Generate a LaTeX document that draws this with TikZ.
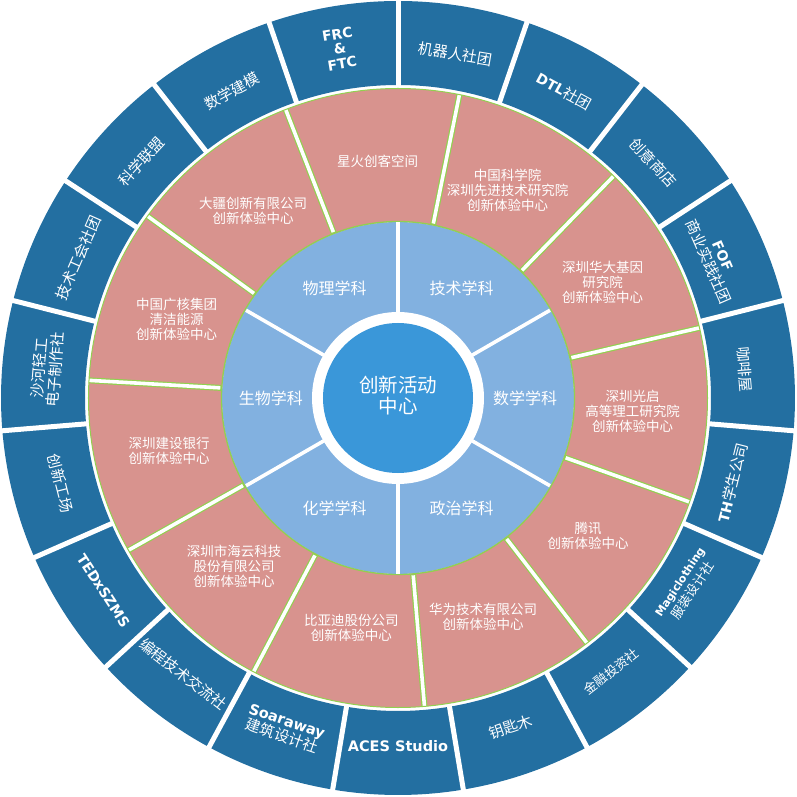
\documentclass[tikz,border=0pt]{standalone}
\usepackage{fontspec}
\newfontfamily\cjk{Noto Sans CJK SC}
\newfontfamily\latb{DejaVu Sans Bold}
\definecolor{outerblue}{HTML}{236FA1}
\definecolor{salmon}{HTML}{D8938E}
\definecolor{innerblue}{HTML}{82B1E0}
\definecolor{centerblue}{HTML}{3A97D9}
\definecolor{sepgreen}{HTML}{92D050}
\tikzset{
  inlbl/.style={text=white, inner sep=0pt, font=\cjk\fontsize{16}{18}\selectfont},
  ctrlbl/.style={text=white, inner sep=0pt, align=center, font=\cjk\fontsize{19.5}{21.5}\selectfont},
  midlbl/.style={text=white, inner sep=0pt, align=center, font=\cjk\fontsize{13.5}{15}\selectfont},
  outlbl/.style={text=white, inner sep=0pt, align=center, font=\cjk\fontsize{15}{16}\selectfont},
  latlbl/.style={text=white, inner sep=0pt, align=center, font=\latb\fontsize{14}{15}\selectfont},
}
\begin{document}
\begin{tikzpicture}
\useasboundingbox (-398pt,-399pt) rectangle (399pt,398pt);
% outer ring
\foreach \k in {0,...,18} {
  \pgfmathsetmacro\b{90-\k*360/19}
  \pgfmathsetmacro\a{\b-360/19}
  \fill[outerblue] (\a:313pt) arc[start angle=\a, end angle=\b, radius=313pt]
     -- (\b:397pt) arc[start angle=\b, end angle=\a, radius=397pt] -- cycle;
}
\foreach \k in {0,...,18} {
  \pgfmathsetmacro\b{90-\k*360/19}
  \draw[white, line width=5pt] (\b:310pt) -- (\b:400pt);
}
% middle ring
\foreach \k in {0,...,10} {
  \pgfmathsetmacro\b{78.55-\k*360/11}
  \pgfmathsetmacro\a{\b-360/11}
  \fill[salmon] (\a:176pt) arc[start angle=\a, end angle=\b, radius=176pt]
     -- (\b:309.5pt) arc[start angle=\b, end angle=\a, radius=309.5pt] -- cycle;
}
\foreach \k in {0,...,10} {
  \pgfmathsetmacro\b{78.55-\k*360/11}
  \draw[sepgreen, line width=6pt] (\b:177pt) -- (\b:309.5pt);
  \draw[white, line width=3.6pt] (\b:178pt) -- (\b:312pt);
}
\draw[sepgreen, line width=1pt] (0,0) circle[radius=309.5pt];
% inner ring
\fill[innerblue] (0,0) circle[radius=176pt];
\draw[sepgreen, line width=1.3pt] (0,0) circle[radius=176.5pt];
\foreach \t in {90,30,-30,-90,-150,150} {
  \draw[white, line width=3.6pt] (\t:80pt) -- (\t:175.5pt);
}
\fill[white] (0,0) circle[radius=86pt];
\fill[centerblue] (0,0) circle[radius=75pt];
% centre
\node[ctrlbl] (ctr) at (0,2.5pt) {创新活动\\中心};
% inner labels
\node[inlbl] (i1) at (60:127pt) {技术学科};
\node[inlbl] (i2) at (0:127pt) {数学学科};
\node[inlbl] (i3) at (-60:127pt) {政治学科};
\node[inlbl] (i4) at (-120:127pt) {化学学科};
\node[inlbl] (i5) at (180:127pt) {生物学科};
\node[inlbl] (i6) at (120:127pt) {物理学科};
% middle labels
\node[midlbl] (m0) at (62.19:235pt) {中国科学院\\深圳先进技术研究院\\创新体验中心};
\node[midlbl] (m1) at (29.46:235pt) {深圳华大基因\\研究院\\创新体验中心};
\node[midlbl] (m2) at (-3.27:235pt) {深圳光启\\高等理工研究院\\创新体验中心};
\node[midlbl] (m3) at (-36.0:235pt) {腾讯\\创新体验中心};
\node[midlbl] (m4) at (-68.73:235pt) {华为技术有限公司\\创新体验中心};
\node[midlbl] (m5) at (-101.45:235pt) {比亚迪股份公司\\创新体验中心};
\node[midlbl] (m6) at (-134.18:235pt) {深圳市海云科技\\股份有限公司\\创新体验中心};
\node[midlbl] (m7) at (-166.9:235pt) {深圳建设银行\\创新体验中心};
\node[midlbl] (m8) at (160.4:235pt) {中国广核集团\\清洁能源\\创新体验中心};
\node[midlbl] (m9) at (127.65:237pt) {大疆创新有限公司\\创新体验中心};
\node[midlbl] (m10) at (94.9:238pt) {星火创客空间};
% outer labels
\node[latlbl, rotate=9.47] (o0) at (99.47:354pt) {FRC\\\&\\FTC};
\node[outlbl, rotate=-9.47] (o1) at (80.53:349pt) {机器人社团};
\node[outlbl, rotate=-28.42] (o2) at (61.58:349pt) {{\latb\fontsize{14}{16}\selectfont DTL}社团};
\node[outlbl, rotate=-47.37] (o3) at (42.63:347pt) {创意商店};
\node[outlbl, rotate=-66.32] (o4) at (23.68:346pt) {{\latb\fontsize{14}{16}\selectfont FOF}\\商业实践社团};
\node[outlbl, rotate=-85.26] (o5) at (4.74:348pt) {咖啡屋};
\node[outlbl, rotate=75.79] (o6) at (-14.21:345pt) {{\latb\fontsize{14}{16}\selectfont TH}学生公司};
\node[outlbl, rotate=56.84, font=\cjk\fontsize{13}{16}\selectfont] (o7) at (-33.16:345pt) {{\latb\fontsize{11}{13}\selectfont Magiclothing}\\服装设计社};
\node[outlbl, rotate=37.9, font=\cjk\fontsize{13}{15}\selectfont] (o8) at (-52.1:347pt) {金融投资社};
\node[outlbl, rotate=18.95] (o9) at (-71.05:348pt) {钥匙木};
\node[latlbl, font=\latb\fontsize{14.5}{16}\selectfont] (o10) at (-90:348pt) {ACES Studio};
\node[outlbl, rotate=-18.95] (o11) at (-108.95:350pt) {{\latb\fontsize{14.5}{16}\selectfont Soaraway}\\建筑设计社};
\node[outlbl, rotate=-37.9] (o12) at (-127.9:350pt) {编程技术交流社};
\node[latlbl, font=\latb\fontsize{14}{16}\selectfont, rotate=-56.84] (o13) at (-146.84:352pt) {TEDxSZMS};
\node[outlbl, rotate=-75.79] (o14) at (-165.79:348pt) {创新工场};
\node[outlbl, rotate=85.26] (o15) at (175.26:352pt) {沙河轻工\\电子制作社};
\node[outlbl, rotate=66.32] (o16) at (156.32:349pt) {技术工会社团};
\node[outlbl, rotate=47.37] (o17) at (137.37:349pt) {科学联盟};
\node[outlbl, rotate=28.42] (o18) at (118.42:349pt) {数学建模};
\end{tikzpicture}
\end{document}
